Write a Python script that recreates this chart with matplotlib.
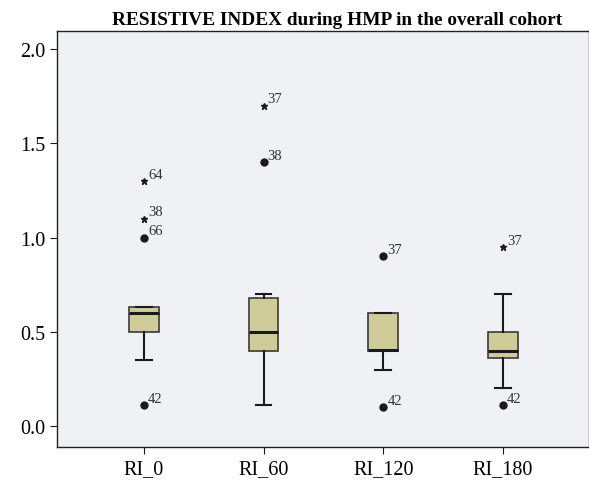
import numpy as np
import matplotlib
matplotlib.use("Agg")
import matplotlib.pyplot as plt

# DATA
labels = ["RI_0", "RI_60", "RI_120", "RI_180"]
q1 = [0.50, 0.40, 0.40, 0.36]
med = [0.60, 0.50, 0.405, 0.40]
q3 = [0.63, 0.68, 0.60, 0.50]
whislo = [0.35, 0.11, 0.30, 0.20]
whishi = [0.63, 0.70, 0.60, 0.70]

# outliers: (group index, value, case id, extreme?)
out_group = [0, 0, 0, 0, 1, 1, 2, 2, 3, 3]
out_value = [1.0, 1.1, 1.3, 0.11, 1.4, 1.7, 0.9, 0.10, 0.95, 0.11]
out_case = ["66", "38", "64", "42", "38", "37", "37", "42", "37", "42"]
out_star = [False, True, True, False, False, True, False, False, True, False]

plt.rcParams["font.family"] = ["Liberation Serif", "DejaVu Serif"]

fig = plt.figure(figsize=(5.89, 4.81), dpi=100)
ax = fig.add_axes([0.097, 0.069, 0.903, 0.864])
ax.set_facecolor("#eff1f4")

stats = []
for i in range(len(labels)):
    stats.append({"q1": q1[i], "med": med[i], "q3": q3[i],
                  "whislo": whislo[i], "whishi": whishi[i], "fliers": []})

pos = np.arange(1, len(labels) + 1)
bp = ax.bxp(stats, positions=pos, widths=0.25, capwidths=0.13,
            showfliers=False, patch_artist=True,
            boxprops=dict(facecolor="#cfcc9a", edgecolor="#3a3a3a", linewidth=1.2),
            medianprops=dict(color="#1a1a1a", linewidth=2.2),
            whiskerprops=dict(color="#1a1a1a", linewidth=1.5),
            capprops=dict(color="#1a1a1a", linewidth=1.5))

for g, v, c, s in zip(out_group, out_value, out_case, out_star):
    x = pos[g]
    if s:
        ax.plot(x, v, marker="*", color="#1a1a1a", markersize=4.5, linestyle="none")
    else:
        ax.plot(x, v, marker="o", color="#1a1a1a", markersize=5, linestyle="none")
    ax.annotate(c, (x, v), xytext=(3, 2.5), textcoords="offset points",
                fontsize=10.5, color="#333333")

ax.set_xlim(0.275, 4.72)
ax.set_ylim(-0.11, 2.095)
ax.set_xticks(pos)
ax.set_xticklabels(labels, fontsize=14.5)
ax.set_yticks([0.0, 0.5, 1.0, 1.5, 2.0])
ax.set_yticklabels(["0.0", "0.5", "1.0", "1.5", "2.0"], fontsize=14.5)
ax.tick_params(direction="out", length=5, color="#1a1a1a")
for sp in ax.spines.values():
    sp.set_color("#222222")
    sp.set_linewidth(1.0)

ax.set_title("RESISTIVE INDEX during HMP in the overall cohort",
             fontsize=13.9, fontweight="bold", pad=5, x=0.526)

fig.savefig("out.png", dpi=100)
